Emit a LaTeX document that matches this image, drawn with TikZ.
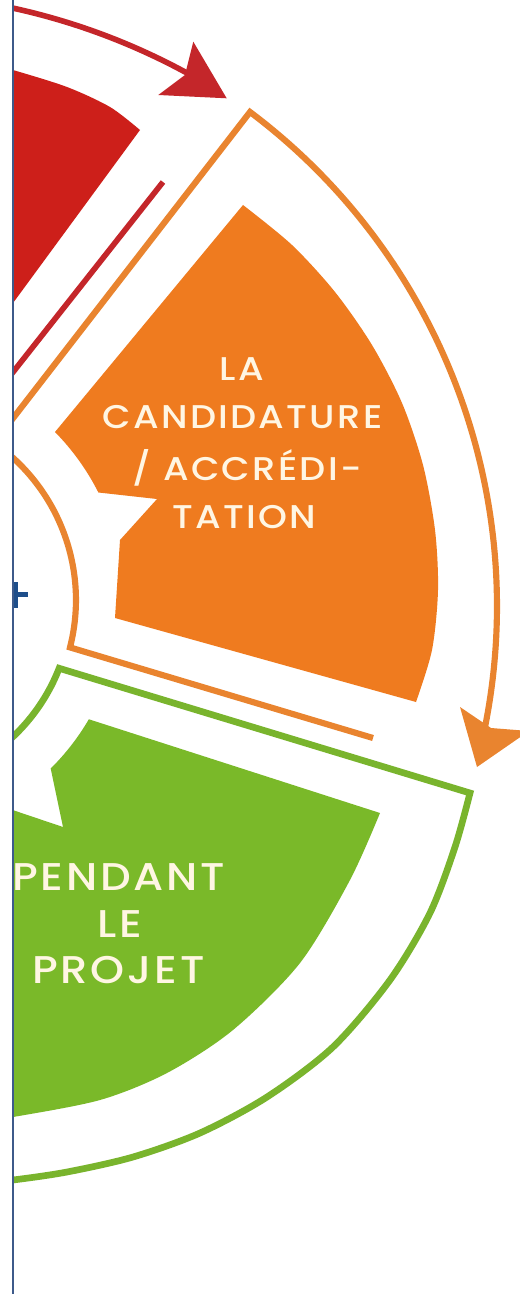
\documentclass[tikz,border=0pt]{standalone}
\usepackage{fontspec}
\newfontfamily\pop[UprightFont={* Medium}, LetterSpace=7, FakeStretch=1.12]{Poppins}
\definecolor{redfill}{HTML}{CD1F1A}
\definecolor{redline}{HTML}{C4262A}
\definecolor{orfill}{HTML}{EF7B1F}
\definecolor{orline}{HTML}{E9842F}
\definecolor{grfill}{HTML}{7AB929}
\definecolor{grline}{HTML}{79B42D}
\definecolor{txtc}{HTML}{FFF6E3}
\definecolor{bordc}{HTML}{3D5A8A}
\definecolor{plusc}{HTML}{1E4E8A}
\begin{document}
\begin{tikzpicture}[x=0.02cm,y=-0.02cm,
  frame/.style={line width=3.5pt, line join=miter, line cap=butt},
  otxt/.style={text=txtc, font=\pop\fontsize{18.7}{20}\selectfont, anchor=base, inner sep=0pt},
  gtxt/.style={text=txtc, font=\pop\fontsize{22}{24}\selectfont, anchor=base, inner sep=0pt}]
\useasboundingbox (0,0) rectangle (520,1294);
\fill[white] (0,0) rectangle (520,1294);
\begin{scope}
\clip (12,-5) rectangle (525,1300);
% red
\fill[redfill] plot[smooth] coordinates {(-20,61) (13,70) (67,87) (110,107) (140,130)} -- (-20,348) -- cycle;
\draw[frame, redline, line width=3.2pt] (163,182) -- (-20,414);
\draw[frame, redline, line width=3.2pt] (-13,3) arc[start angle=-80, end angle=-60, radius=656];
\fill[redline] (226.7,98.3) -- (193.3,41.7) -- (185,75) -- (158.3,95) -- cycle;
% orange
\fill[orfill] (243,205) -- (55,432) arc[start angle=-44.5, end angle=-26.8, radius=242] -- (157,499) -- (120,540) -- (115,618) -- (416,702) -- plot[smooth] coordinates {(416,702) (432,650) (438,590) (435,530) (423,465) (402,403) (372,345) (335,292) (292,245) (243,205)} -- cycle;
\draw[frame, orline] (373,738) -- (70,647.4) arc[start angle=14.3, end angle=-55, radius=192] -- (250,112) arc[start angle=-53.1, end angle=12, radius=618];
\fill[orline] (477,767) -- (460,707) -- (491,728) -- (529,731) -- cycle;
% green
\fill[grfill] (-20,799) -- (63,827) -- (50.7,768.5) arc[start angle=45.3, end angle=30.2, radius=237] -- (380,813) -- plot[smooth] coordinates {(380,813) (350,880) (300,963) (233,1030) (167,1073) (100,1100) (13,1117) (-20,1121)} -- cycle;
\draw[frame, grline, line width=3.8pt] (-22,762.8) arc[start angle=60, end angle=21.3, radius=188] -- (470,793) -- plot[smooth] coordinates {(470,793) (455,847) (430,913) (390,980) (333,1047) (267,1097) (200,1133) (133,1157) (67,1172) (13,1180) (-20,1183)};
% plus
\fill[plusc] (13,582) rectangle (18.3,608);
\fill[plusc] (13,591.7) rectangle (28.3,596.7);
\end{scope}
\draw[bordc, line width=1pt] (12.8,0) -- (12.8,1294);
% texts
\node[otxt] (t1) at (242,380) {LA};
\node[otxt] (t2) at (242.5,428) {CANDIDATURE};
\node[otxt] (t3) at (247,480) {/ ACCRÉDI-};
\node[otxt] (t4) at (244.5,528) {TATION};
\node[gtxt] (t5) at (118.5,890) {PENDANT};
\node[gtxt] (t6) at (120,937) {LE};
\node[gtxt] (t7) at (118.5,983) {PROJET};
\end{tikzpicture}
\end{document}
